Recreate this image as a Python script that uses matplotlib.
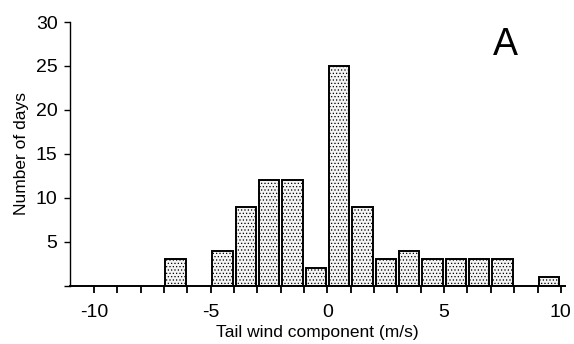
import matplotlib
matplotlib.use('Agg')
from matplotlib import pyplot as plt

plt.rcParams['font.family'] = ['Liberation Sans', 'DejaVu Sans']
plt.rcParams['hatch.color'] = '#c4c4c4'
plt.rcParams['hatch.linewidth'] = 0.5

# bin left edges (m/s) and counts
bin_left = [-7, -5, -4, -3, -2, -1, 0, 1, 2, 3, 4, 5, 6, 7, 9]
counts = [3, 4, 9, 12, 12, 2, 25, 9, 3, 4, 3, 3, 3, 3, 1]
x_ticks = list(range(-10, 11))
y_ticks = [0, 5, 10, 15, 20, 25, 30]

fig = plt.figure(figsize=(5.74, 3.44), dpi=100)
ax = fig.add_axes([0.122, 0.169, 0.862, 0.767])

centers = [b + 0.5 for b in bin_left]
ax.bar(centers, counts, width=0.88, facecolor='#f4f4f4', edgecolor='black',
       linewidth=1.4, hatch='.....')

ax.set_xlim(-11.03, 10.17)
ax.set_ylim(0, 30)
ax.set_xticks(x_ticks)
ax.set_xticklabels([str(t) if t % 5 == 0 else '' for t in x_ticks], fontsize=14)
ax.set_yticks(y_ticks)
ax.set_yticklabels(['' if t == 0 else str(t) for t in y_ticks], fontsize=14)
ax.tick_params(axis='x', direction='out', length=5, width=1.3, pad=8)
ax.tick_params(axis='y', direction='out', length=4, width=1.0, pad=5)

for s in ['top', 'right']:
    ax.spines[s].set_visible(False)
ax.spines['left'].set_linewidth(1.0)
ax.spines['bottom'].set_linewidth(1.4)

ax.set_xlabel('Tail wind component (m/s)', fontsize=12.5, labelpad=3)
ax.set_ylabel('Number of days', fontsize=12.5, labelpad=5)

ax.text(0.879, 0.875, 'A', transform=ax.transAxes, fontsize=27,
        ha='center', va='baseline')

fig.savefig('out.png', dpi=100, facecolor='white')
